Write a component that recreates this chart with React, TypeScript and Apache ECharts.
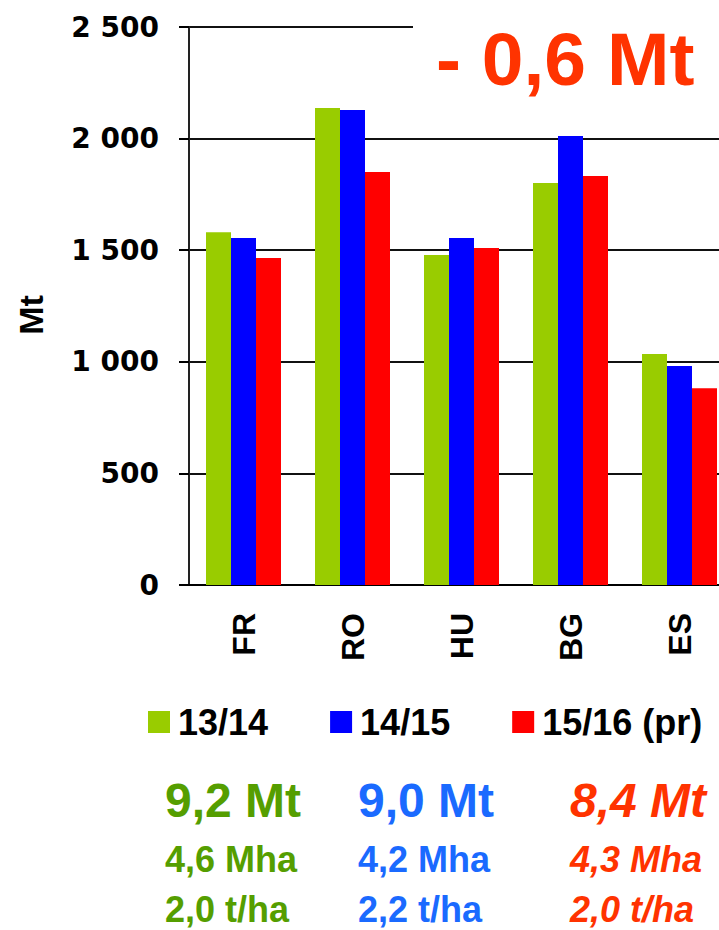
import React, { useEffect, useRef } from "react";
import * as echarts from "echarts";

const categories = ["FR", "RO", "HU", "BG", "ES"];
const seriesNames = ["13/14", "14/15", "15/16 (pr)"];
const values1314 = [1580, 2137, 1478, 1801, 1035];
const values1415 = [1555, 2128, 1555, 2012, 981];
const values1516 = [1465, 1850, 1510, 1832, 882];
const barColors = ["#99CC00", "#0000FF", "#FF0000"];
const yTicks = [0, 500, 1000, 1500, 2000, 2500];
const deltaLabel = "- 0,6 Mt";
const totalsMt = ["9,2 Mt", "9,0 Mt", "8,4 Mt"];
const totalsMha = ["4,6 Mha", "4,2 Mha", "4,3 Mha"];
const totalsYield = ["2,0 t/ha", "2,2 t/ha", "2,0 t/ha"];
const summaryColors = ["#559E00", "#1A6AFF", "#FF3300"];

const FONT = '"Liberation Sans", Arial, sans-serif';

export default function App() {
  const ref = useRef<HTMLDivElement>(null);
  useEffect(() => {
    if (!ref.current) return;
    const chart = echarts.init(ref.current, null, { renderer: "svg" });
    const seriesValues = [values1314, values1415, values1516];
    const colX = [165, 358, 570];
    const summaryTexts: any[] = [];
    const rows = [
      { arr: totalsMt, y: 800, size: 48 },
      { arr: totalsMha, y: 859, size: 36 },
      { arr: totalsYield, y: 909, size: 36 },
    ];
    rows.forEach((r) => {
      r.arr.forEach((t, i) => {
        summaryTexts.push({
          type: "text",
          x: colX[i],
          y: r.y,
          style: {
            text: t,
            fill: summaryColors[i],
            font: `${i === 2 ? "italic " : ""}bold ${r.size}px ${FONT}`,
            lineHeight: r.size,
            textAlign: "left",
            textVerticalAlign: "middle",
          },
        });
      });
    });
    const fmt = (v: number) => {
      const s = String(v);
      return s.length > 3 ? s.slice(0, s.length - 3) + " " + s.slice(-3) : s;
    };
    chart.setOption({
      animation: false,
      backgroundColor: "#fff",
      grid: {
        left: 189,
        width: 545,
        top: 27,
        bottom: 345,
        containLabel: false,
        outerBoundsMode: "none",
      },
      legend: {
        data: seriesNames,
        left: 148,
        top: 704,
        itemWidth: 22,
        itemHeight: 22,
        itemGap: 62,
        padding: 0,
        icon: "rect",
        textStyle: {
          fontFamily: FONT,
          fontWeight: "bold",
          fontSize: 36,
          color: "#000",
          padding: [0, 0, 0, 3],
        },
      },
      xAxis: {
        type: "category",
        data: categories,
        axisLine: { show: true, lineStyle: { color: "#000", width: 2 } },
        axisTick: { show: false },
        axisLabel: {
          rotate: 90,
          margin: 28,
          fontFamily: FONT,
          fontWeight: "bold",
          fontSize: 32,
          color: "#000",
        },
      },
      yAxis: {
        type: "value",
        min: 0,
        max: 2500,
        interval: 500,
        axisLine: { show: true, lineStyle: { color: "#222", width: 2 } },
        axisTick: { show: true, length: 10, lineStyle: { color: "#000", width: 2 } },
        splitLine: { show: true, lineStyle: { color: "#111", width: 2 } },
        axisLabel: {
          margin: 30,
          fontFamily: '"DejaVu Sans", sans-serif',
          fontWeight: "bold",
          fontSize: 28,
          color: "#000",
          formatter: (v: number) => (yTicks.includes(v) ? fmt(v) : ""),
        },
      },
      series: seriesNames.map((name, i) => ({
        name,
        type: "bar",
        data: seriesValues[i],
        barWidth: 25,
        barGap: "0%",
        itemStyle: { color: barColors[i] },
      })),
      graphic: [
        {
          type: "rect",
          z: 100,
          shape: { x: 413, y: 18, width: 320, height: 18 },
          style: { fill: "#fff" },
        },
        {
          type: "text",
          z: 101,
          x: 436,
          y: 59,
          style: {
            text: deltaLabel,
            fill: "#FF3300",
            font: `bold 75px ${FONT}`,
            textAlign: "left",
            textVerticalAlign: "middle",
          },
        },
        {
          type: "text",
          x: 31,
          y: 315,
          rotation: Math.PI / 2,
          style: {
            text: "Mt",
            fill: "#000",
            font: `bold 34px ${FONT}`,
            textAlign: "center",
            textVerticalAlign: "middle",
          },
        },
        ...summaryTexts,
      ],
    });
    return () => chart.dispose();
  }, []);
  return (
    <div
      ref={ref}
      style={{ position: "absolute", left: 0, top: 0, width: 719, height: 930 }}
    />
  );
}
